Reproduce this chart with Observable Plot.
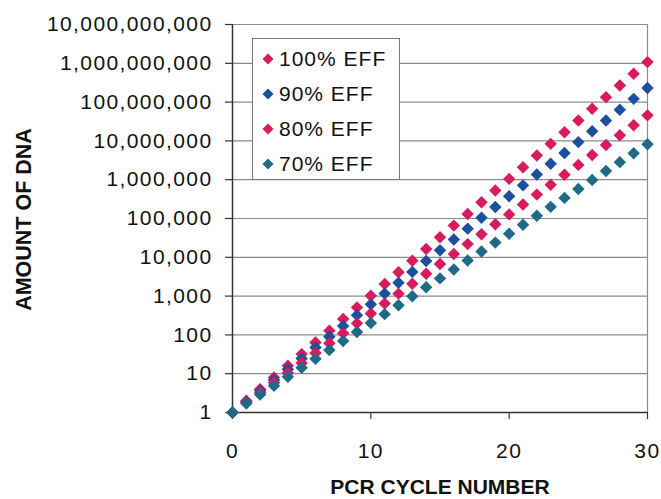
<!DOCTYPE html>
<html>
<head>
<meta charset="utf-8">
<script src="https://cdn.jsdelivr.net/npm/d3@7"></script>
<script src="https://cdn.jsdelivr.net/npm/@observablehq/plot@0.6"></script>
<style>
  html, body { margin: 0; padding: 0; background: #fff; }
  #wrap { position: relative; width: 661px; height: 499px; font-family: "Liberation Sans", Arial, sans-serif; }
  #wrap svg { display: block; }
  .legend {
    position: absolute; left: 252px; top: 38px; width: 146px; height: 140px;
    border: 1px solid #777; background: #fff;
  }
  .legend .item { position: absolute; left: 0; height: 24px; display: flex; align-items: center; }
  .legend .item svg { margin-left: 9px; margin-right: 5px; }
  .legend .item span { font-size: 21px; color: #111; letter-spacing: 1px; }
</style>
</head>
<body>
<div id="wrap"></div>
<script>
// PCR cycle numbers
const cycles = [0,1,2,3,4,5,6,7,8,9,10,11,12,13,14,15,16,17,18,19,20,21,22,23,24,25,26,27,28,29,30];

// Amount of DNA after each cycle, one array per amplification efficiency
const eff100 = [1,2,4,8,16,32,64,128,256,512,1024,2048,4096,8192,16384,32768,65536,131072,262144,524288,1048576,2097152,4194304,8388608,16777216,33554432,67108864,134217728,268435456,536870912,1073741824];
const eff90 = [1,1.9,3.61,6.859,13.03,24.76,47.05,89.39,169.8,322.7,613.1,1165,2213,4205,7990,15181,28844,54804,104127,197842,375900,714209,1356998,2578296,4898763,9307650,17684534,33600615,63841168,121298220,230466618];
const eff80 = [1,1.8,3.24,5.832,10.50,18.90,34.01,61.22,110.2,198.4,357.0,642.7,1157,2082,3748,6747,12144,21859,39346,70824,127482,229468,413043,743477,1338259,2408866,4335959,7804726,14048507,25287312,45517161];
const eff70 = [1,1.7,2.89,4.913,8.352,14.20,24.14,41.03,69.76,118.6,201.6,342.7,582.6,990.5,1684,2862,4866,8272,14063,23907,40642,69092,117456,199676,339449,577063,981007,1667712,2835110,4819688,8193466];

const seriesNames = ["100% EFF", "90% EFF", "80% EFF", "70% EFF"];
const seriesValues = [eff100, eff90, eff80, eff70];
const seriesColors = ["#d81b5c", "#1c4f9c", "#d81b5c", "#1f6b87"];

// Axis ticks
const xTicks = [0, 10, 20, 30];
const yTicks = [1, 10, 100, 1e3, 1e4, 1e5, 1e6, 1e7, 1e8, 1e9, 1e10];

const rows = seriesValues.flatMap((vals, s) =>
  cycles.map((c, i) => ({series: seriesNames[s], cycle: c, amount: vals[i]}))
);

const font = "Liberation Sans, Arial, sans-serif";

const chart = Plot.plot({
  width: 661,
  height: 499,
  marginLeft: 232,
  marginRight: 14,
  marginTop: 24,
  marginBottom: 87,
  style: {fontFamily: font, background: "#fff", color: "#111", overflow: "visible"},
  x: {domain: [0, 30]},
  y: {type: "log", domain: [1, 1e10]},
  color: {domain: seriesNames, range: seriesColors},
  marks: [
    Plot.ruleY(yTicks.slice(1), {stroke: "#8c8c8c", strokeWidth: 1.2}),
    Plot.ruleX([30], {stroke: "#8c8c8c", strokeWidth: 1.2}),
    Plot.ruleX([0], {stroke: "#333", strokeWidth: 1.5}),
    Plot.ruleY([1], {stroke: "#333", strokeWidth: 1.5}),
    Plot.axisY({
      ticks: yTicks, tickFormat: d3.format(","), tickSize: 7, tickPadding: 13,
      fontSize: 21, stroke: "#333", strokeWidth: 1.2, label: null
    }),
    Plot.axisX({
      ticks: xTicks, tickFormat: d => String(d), tickSize: 7, tickPadding: 24,
      fontSize: 21, stroke: "#333", strokeWidth: 1.2, label: null
    }),
    Plot.dot(rows, {
      x: "cycle", y: "amount", fill: "series", symbol: "diamond2", r: 5.6, stroke: null
    }),
    Plot.text(["PCR CYCLE NUMBER"], {
      frameAnchor: "bottom", dy: 81, fontSize: 21, fontWeight: "bold", fill: "#111"
    }),
    Plot.text(["AMOUNT OF DNA"], {
      frameAnchor: "left", textAnchor: "middle", dx: -208, dy: 1, rotate: -90,
      fontSize: 21.5, fontWeight: "bold", fill: "#111"
    })
  ]
});

// Slightly wider spacing for the numeric tick labels
chart.querySelectorAll('g[aria-label="y-axis tick label"] text').forEach(t => t.setAttribute("letter-spacing", "1.4"));
chart.querySelectorAll('g[aria-label="x-axis tick label"] text').forEach(t => t.setAttribute("letter-spacing", "1.5"));

const wrap = document.getElementById("wrap");
wrap.appendChild(chart);

// Legend box inside the plot area
const legend = document.createElement("div");
legend.className = "legend";
seriesNames.forEach((name, i) => {
  const item = document.createElement("div");
  item.className = "item";
  item.style.top = (8 + i * 35) + "px";
  item.innerHTML =
    `<svg width="12" height="12" viewBox="-6 -6 12 12"><path d="M0,-5.5L5.5,0L0,5.5L-5.5,0Z" fill="${seriesColors[i]}"/></svg>` +
    `<span>${name}</span>`;
  legend.appendChild(item);
});
wrap.appendChild(legend);
</script>
</body>
</html>
